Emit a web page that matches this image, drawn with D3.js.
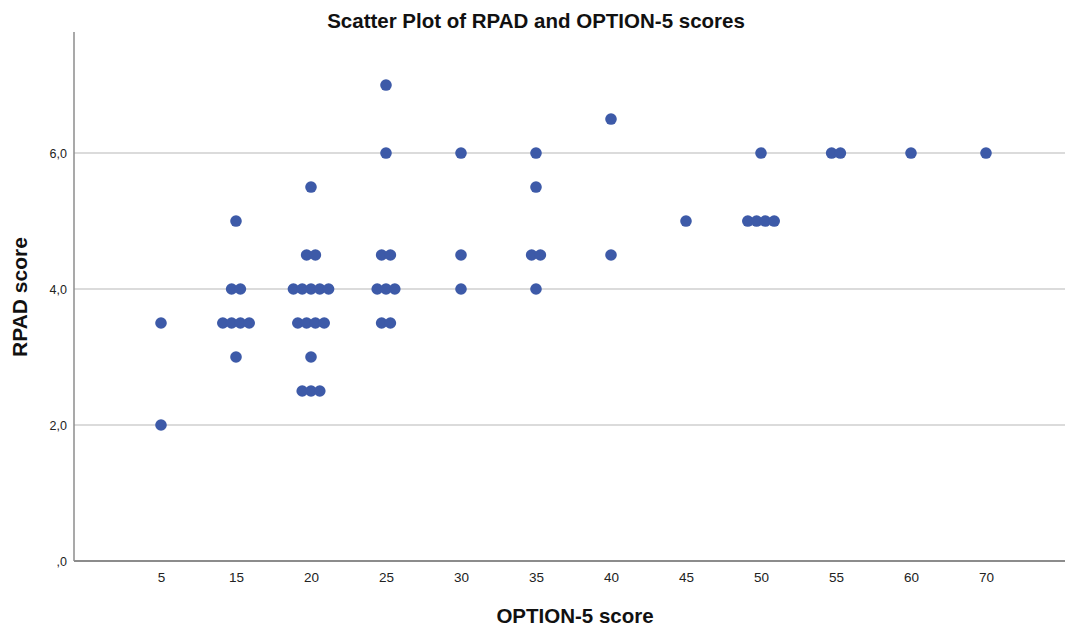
<!DOCTYPE html>
<html>
<head>
<meta charset="utf-8">
<script src="https://cdn.jsdelivr.net/npm/d3@7"></script>
<style>
  body { margin: 0; background: #fff; }
  svg { display: block; font-family: "Liberation Sans", Arial, sans-serif; }
</style>
</head>
<body>
<div id="chart"></div>
<script>
// OPTION-5 categories shown on the x axis (ordinal, evenly spaced)
const optionCategories = ["5", "15", "20", "25", "30", "35", "40", "45", "50", "55", "60", "70"];

// y axis ticks
const rpadTicks = [0, 2, 4, 6];

// paired observations (OPTION-5 score, RPAD score)
const optionScores = [
    5, 5,
    15, 15, 15, 15, 15, 15, 15, 15,
    20, 20, 20, 20, 20, 20, 20, 20, 20, 20, 20, 20, 20, 20, 20, 20,
    25, 25, 25, 25, 25, 25, 25, 25, 25,
    30, 30, 30,
    35, 35, 35, 35, 35,
    40, 40,
    45,
    50, 50, 50, 50, 50,
    55, 55,
    60,
    70
];
const rpadScores = [
    3.5, 2.0,
    5.0, 4.0, 4.0, 3.5, 3.5, 3.5, 3.5, 3.0,
    5.5, 4.5, 4.5, 4.0, 4.0, 4.0, 4.0, 4.0, 3.5, 3.5, 3.5, 3.5, 3.0, 2.5, 2.5, 2.5,
    7.0, 6.0, 4.5, 4.5, 4.0, 4.0, 4.0, 3.5, 3.5,
    6.0, 4.5, 4.0,
    6.0, 5.5, 4.5, 4.5, 4.0,
    6.5, 4.5,
    5.0,
    6.0, 5.0, 5.0, 5.0, 5.0,
    6.0, 6.0,
    6.0,
    6.0
];

function chart() {
    const width = 1065;
    const height = 628;
    const left = 74, right = 1065, top = 32, bottom = 561;
    const dotColor = "#3d5aa8";
    const dodge = 8.8;

    const x = d3.scalePoint()
        .domain(optionCategories)
        .range([161, 986]);

    const y = d3.scaleLinear()
        .domain([0, 7.78])
        .range([bottom, top]);

    const svg = d3.create("svg")
        .attr("width", width)
        .attr("height", height);

    // gridlines
    svg.append("g")
        .selectAll("line")
        .data(rpadTicks.filter(d => d > 0))
        .join("line")
        .attr("x1", left)
        .attr("x2", right)
        .attr("y1", d => y(d))
        .attr("y2", d => y(d))
        .attr("stroke", "#cfcfcf")
        .attr("stroke-width", 1.5);

    // axis lines
    svg.append("line")
        .attr("x1", left).attr("x2", left)
        .attr("y1", top).attr("y2", bottom)
        .attr("stroke", "#8c8c8c")
        .attr("stroke-width", 1.5);
    svg.append("line")
        .attr("x1", left).attr("x2", right)
        .attr("y1", bottom).attr("y2", bottom)
        .attr("stroke", "#8c8c8c")
        .attr("stroke-width", 2);

    // y axis labels
    const fmt = d => d === 0 ? ",0" : d.toFixed(1).replace(".", ",");
    svg.append("g")
        .attr("transform", `translate(${left - 4},0)`)
        .call(d3.axisLeft(y).tickValues(rpadTicks).tickFormat(fmt).tickSize(0))
        .call(g => g.select(".domain").remove())
        .call(g => g.selectAll("text")
            .attr("font-family", "Liberation Sans, Arial, sans-serif")
            .attr("font-size", 12.5)
            .attr("fill", "#222"));

    // x axis labels
    svg.append("g")
        .attr("transform", `translate(0,${bottom + 8})`)
        .call(d3.axisBottom(x).tickSize(0))
        .call(g => g.select(".domain").remove())
        .call(g => g.selectAll("text")
            .attr("font-family", "Liberation Sans, Arial, sans-serif")
            .attr("font-size", 13.5)
            .attr("fill", "#222"));

    // dodge points that share a category and value
    const points = optionScores.map((o, i) => ({option: String(o), rpad: rpadScores[i]}));
    const groups = d3.group(points, d => d.option, d => d.rpad);
    groups.forEach(byValue => byValue.forEach(list => {
        list.forEach((d, i) => { d.offset = (i - (list.length - 1) / 2) * dodge; });
    }));

    svg.append("g")
        .selectAll("circle")
        .data(points)
        .join("circle")
        .attr("cx", d => x(d.option) + d.offset)
        .attr("cy", d => y(d.rpad))
        .attr("r", 5.8)
        .attr("fill", dotColor);

    // titles
    svg.append("text")
        .attr("x", 536)
        .attr("y", 28)
        .attr("text-anchor", "middle")
        .attr("font-size", 20.5)
        .attr("font-weight", "bold")
        .attr("fill", "#111")
        .text("Scatter Plot of RPAD and OPTION-5 scores");

    svg.append("text")
        .attr("x", 575)
        .attr("y", 623)
        .attr("text-anchor", "middle")
        .attr("font-size", 20.5)
        .attr("font-weight", "bold")
        .attr("fill", "#111")
        .text("OPTION-5 score");

    svg.append("text")
        .attr("transform", "translate(27,297) rotate(-90)")
        .attr("text-anchor", "middle")
        .attr("font-size", 21)
        .attr("font-weight", "bold")
        .attr("fill", "#111")
        .text("RPAD score");

    return svg.node();
}

document.getElementById("chart").appendChild(chart());
</script>
</body>
</html>
